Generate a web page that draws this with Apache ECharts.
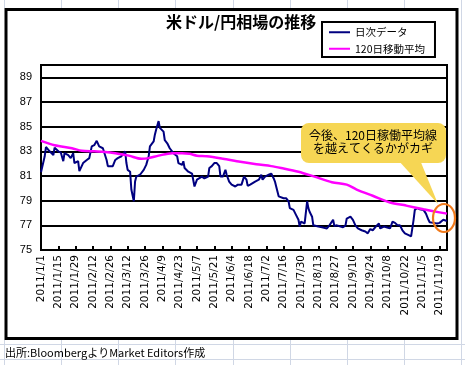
<!DOCTYPE html>
<html><head><meta charset="utf-8">
<script src="https://cdn.jsdelivr.net/npm/echarts@6/dist/echarts.min.js"></script>
<style>html,body{margin:0;padding:0;background:#fff}#c{width:465px;height:365px}</style>
</head><body><div id="c"></div>
<script>
const titleText = '米ドル/円相場の推移';
const seriesNames = ['日次データ', '120日移動平均'];
const yTicks = [75, 77, 79, 81, 83, 85, 87, 89];
const calloutLines = ['今後、120日稼働平均線', 'を越えてくるかがカギ'];
const sourceNote = '出所:BloombergよりMarket Editors作成';

const dailyDates = ['1/1','1/4','1/5','1/8','1/9','1/11','1/12','1/15','1/17','1/19','1/20','1/23','1/25','1/27','1/28','1/31',
'2/1','2/4','2/7','2/9','2/11','2/13','2/15','2/17','2/20','2/23','2/24','2/28',
'3/2','3/4','3/7','3/10','3/11','3/12','3/14','3/15','3/17','3/18','3/19','3/22','3/25','3/27','3/29','3/30',
'4/2','4/3','4/4','4/6','4/7','4/10','4/11','4/13','4/15','4/18','4/21','4/22','4/25','4/26','4/27','4/30',
'5/3','5/5','5/7','5/8','5/11','5/13','5/16','5/17','5/19','5/21','5/23','5/25','5/26','5/28','5/30','5/31',
'6/2','6/4','6/7','6/8','6/9','6/12','6/14','6/16','6/17','6/19','6/23','6/26','6/28','6/29',
'7/1','7/4','7/6','7/8','7/9','7/10','7/12','7/13','7/16','7/18','7/20','7/21','7/24','7/26','7/28','7/29','7/30',
'8/2','8/4','8/5','8/6','8/8','8/9','8/10','8/13','8/16','8/17','8/20','8/22','8/25','8/26','8/28','8/31',
'9/2','9/4','9/5','9/8','9/10','9/12','9/14','9/17','9/20','9/22','9/24','9/26','9/29',
'10/1','10/2','10/5','10/7','10/10','10/12','10/14','10/16','10/18','10/20','10/22','10/25','10/27','10/28','10/29','10/30',
'11/1','11/3','11/6','11/8','11/10','11/11','11/14','11/17','11/19','11/22','11/23','11/25'];
const dailyRate = [81.3,82.6,83.35,83.0,83.1,82.7,83.3,83.0,82.9,82.2,82.85,82.7,82.45,82.85,82.05,82.2,
81.4,82.05,82.3,82.45,83.4,83.5,83.85,83.4,83.25,82.3,81.8,81.8,
82.3,82.45,82.6,83.0,82.05,81.5,81.35,79.9,78.95,80.55,80.95,81.1,81.5,81.9,82.6,83.4,
83.8,84.35,84.75,85.45,84.9,84.6,83.9,83.65,83.25,82.85,82.6,82.05,81.9,82.2,81.65,81.35,
81.2,80.15,80.7,80.55,80.95,80.8,80.95,81.65,81.8,82.05,82.05,81.8,80.95,80.95,81.5,81.1,
80.55,80.3,80.15,80.0,80.3,80.3,80.95,80.7,80.2,80.3,80.55,80.7,81.1,80.7,
80.95,81.1,81.2,80.8,80.55,80.15,79.35,79.2,79.2,79.2,78.95,78.4,78.25,77.85,77.45,76.9,77.3,
77.15,78.95,78.4,78.1,77.7,77.0,76.9,76.9,76.85,76.7,76.75,77.0,77.45,76.95,77.0,76.9,
76.85,77.0,77.55,77.7,77.45,77.0,76.75,76.6,76.5,76.35,76.7,76.6,76.95,
77.15,76.75,76.9,76.85,76.75,77.3,77.2,77.0,77.0,76.6,76.35,76.2,76.1,75.95,77.45,78.25,
78.4,78.3,78.25,77.95,77.45,77.25,77.2,77.15,77.2,77.45,77.3,77.35];

const maDates = ['1/1','1/12','1/26','2/3','2/13','2/22','3/2','3/13','3/23','3/29','4/6','4/17','4/25','5/1','5/7','5/15','5/28',
'6/11','6/24','7/6','7/14','7/28','8/10','8/24','9/5','9/13','9/26','10/10','10/23','11/6','11/19','11/25'];
const maRate = [83.85,83.5,83.25,83.05,83.0,82.95,82.85,82.65,82.4,82.45,82.65,82.85,82.85,82.8,82.65,82.6,82.4,
82.15,81.95,81.8,81.65,81.35,80.95,80.5,80.3,79.9,79.4,78.85,78.6,78.3,78.05,77.95];

// category axis: every calendar day of the period
const categories = [];
for (let t = Date.UTC(2011, 0, 1); t <= Date.UTC(2011, 10, 25); t += 86400000) {
  const d = new Date(t);
  categories.push(d.getUTCFullYear() + '/' + (d.getUTCMonth() + 1) + '/' + d.getUTCDate());
}
function place(dates, vals) {
  const arr = categories.map(() => null);
  dates.forEach((s, i) => { const k = categories.indexOf('2011/' + s); if (k >= 0) arr[k] = vals[i]; });
  return arr;
}
const every14 = idx => idx % 14 === 0;

const chart = echarts.init(document.getElementById('c'), null, { renderer: 'canvas' });
const gridLineColor = '#d0d7e5';
const colX = [4.5, 61.5, 118.5, 175.5, 233.5, 290.5, 347.5, 404.5, 461.5];
const excel = [];
colX.forEach(x => {
  excel.push({ type: 'line', z: 0, shape: { x1: x, y1: 0, x2: x, y2: 8 }, style: { stroke: gridLineColor, lineWidth: 1 } });
  excel.push({ type: 'line', z: 0, shape: { x1: x, y1: 340, x2: x, y2: 365 }, style: { stroke: gridLineColor, lineWidth: 1 } });
});
[344.5, 359.5].forEach(y => excel.push({ type: 'line', z: 0, shape: { x1: 0, y1: y, x2: 465, y2: y }, style: { stroke: gridLineColor, lineWidth: 1 } }));
excel.push({ type: 'line', z: 0, shape: { x1: 461.5, y1: 8, x2: 461.5, y2: 340 }, style: { stroke: gridLineColor, lineWidth: 1 } });

const jpFont = '"Noto Sans CJK JP", sans-serif';

chart.setOption({
  animation: false,
  backgroundColor: '#fff',
  title: {
    text: titleText, left: 166, top: 14, padding: 0,
    textStyle: { fontSize: 16, fontWeight: 'bold', color: '#000', fontFamily: jpFont }
  },
  legend: {
    left: 322, top: 22, orient: 'vertical',
    padding: [5, 10, 3, 7], itemGap: 6,
    itemWidth: 21, itemHeight: 2, icon: 'rect',
    borderColor: '#000', borderWidth: 2, backgroundColor: '#fff',
    textStyle: { fontSize: 10.5, color: '#000', fontFamily: jpFont },
    data: [
      { name: seriesNames[0], itemStyle: { color: '#000080' } },
      { name: seriesNames[1], itemStyle: { color: '#ff00ff' } }
    ]
  },
  grid: { left: 41, right: 18, top: 65, bottom: 115, show: true, borderColor: '#000', borderWidth: 2, backgroundColor: '#fff' },
  xAxis: {
    type: 'category', data: categories, boundaryGap: false,
    axisLine: { lineStyle: { color: '#000', width: 2 } },
    axisTick: { show: true, inside: true, length: 4, interval: every14, lineStyle: { color: '#000', width: 2 } },
    axisLabel: { interval: every14, hideOverlap: false, rotate: 90, margin: 5, fontSize: 10.5, lineHeight: 10,
      color: '#000', fontFamily: '"DejaVu Sans"' },
    splitLine: { show: false }
  },
  yAxis: {
    type: 'value', min: 75, max: 90, interval: 2,
    axisLine: { show: false }, axisTick: { show: false },
    axisLabel: { showMaxLabel: false, margin: 9, fontSize: 11, color: '#000', fontFamily: '"Liberation Sans"',
      formatter: v => yTicks.indexOf(v) >= 0 ? String(v) : '' },
    splitLine: { lineStyle: { color: '#000', width: 2 } }
  },
  series: [
    { name: seriesNames[0], type: 'line', data: place(dailyDates, dailyRate), connectNulls: true,
      showSymbol: false, symbol: 'none', lineStyle: { color: '#000080', width: 2 }, itemStyle: { color: '#000080' }, z: 3 },
    { name: seriesNames[1], type: 'line', data: place(maDates, maRate), connectNulls: true, smooth: 0.3,
      showSymbol: false, symbol: 'none', lineStyle: { color: '#ff00ff', width: 2.5 }, itemStyle: { color: '#ff00ff' }, z: 4 }
  ],
  graphic: excel.concat([
    { type: 'rect', z: 1, shape: { x: 6, y: 9.5, width: 451, height: 329 }, style: { fill: 'transparent', stroke: '#000', lineWidth: 3 }, silent: true },
    { type: 'polygon', z: 100, shape: { points: [[398, 160], [420, 160], [438, 204]] }, style: { fill: '#f6d654' } },
    { type: 'rect', z: 100, shape: { x: 301, y: 123, width: 145, height: 40, r: 8 }, style: { fill: '#f6d654' } },
    { type: 'text', z: 101, x: 373, y: 135.5, style: { text: calloutLines[0], fontSize: 12, fill: '#000', fontFamily: jpFont, align: 'center', verticalAlign: 'middle' } },
    { type: 'text', z: 101, x: 373, y: 148.5, style: { text: calloutLines[1], fontSize: 12, fill: '#000', fontFamily: jpFont, align: 'center', verticalAlign: 'middle' } },
    { type: 'ellipse', z: 101, shape: { cx: 444, cy: 218, rx: 11, ry: 14 }, style: { fill: 'transparent', stroke: '#f07a1c', lineWidth: 2.2 } },
    { type: 'text', z: 5, x: 5, y: 353, style: { text: sourceNote, fontSize: 11, fill: '#000', fontFamily: jpFont, verticalAlign: 'middle' } }
  ])
});
</script></body></html>
